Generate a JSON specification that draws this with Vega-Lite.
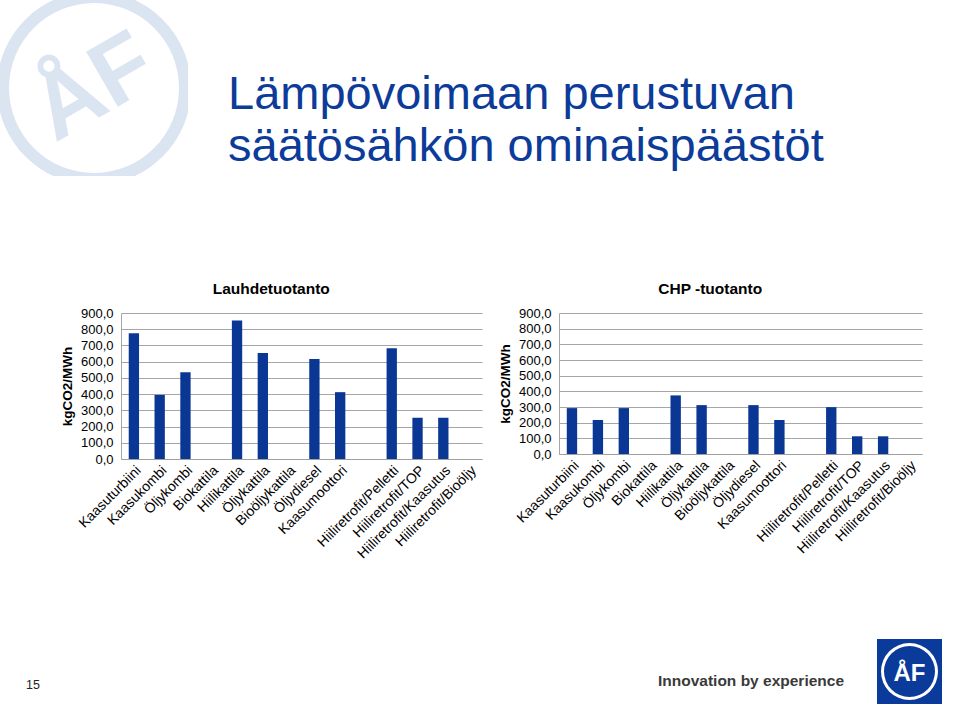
{
  "$schema": "https://vega.github.io/schema/vega-lite/v6.json",
  "padding": 0,
  "background": "white",
  "spacing": 78,
  "config": {
    "view": {"stroke": null},
    "font": "Liberation Sans",
    "axis": {"labelFont": "Liberation Sans", "titleFont": "Liberation Sans"},
    "title": {"font": "Liberation Sans"}
  },
  "datasets": {
    "paastot": [
      {"tuotanto": "Lauhdetuotanto", "tekniikka": "Kaasuturbiini", "kgCO2": 775},
      {"tuotanto": "Lauhdetuotanto", "tekniikka": "Kaasukombi", "kgCO2": 395},
      {"tuotanto": "Lauhdetuotanto", "tekniikka": "Öljykombi", "kgCO2": 534},
      {"tuotanto": "Lauhdetuotanto", "tekniikka": "Biokattila", "kgCO2": 0},
      {"tuotanto": "Lauhdetuotanto", "tekniikka": "Hiilikattila", "kgCO2": 853},
      {"tuotanto": "Lauhdetuotanto", "tekniikka": "Öljykattila", "kgCO2": 653},
      {"tuotanto": "Lauhdetuotanto", "tekniikka": "Bioöljykattila", "kgCO2": 0},
      {"tuotanto": "Lauhdetuotanto", "tekniikka": "Öljydiesel", "kgCO2": 616},
      {"tuotanto": "Lauhdetuotanto", "tekniikka": "Kaasumoottori", "kgCO2": 412},
      {"tuotanto": "Lauhdetuotanto", "tekniikka": "Hiiliretrofit/Pelletti", "kgCO2": 682},
      {"tuotanto": "Lauhdetuotanto", "tekniikka": "Hiiliretrofit/TOP", "kgCO2": 255},
      {"tuotanto": "Lauhdetuotanto", "tekniikka": "Hiiliretrofit/Kaasutus", "kgCO2": 255},
      {"tuotanto": "Lauhdetuotanto", "tekniikka": "Hiiliretrofit/Bioöljy", "kgCO2": 0},
      {"tuotanto": "CHP -tuotanto", "tekniikka": "Kaasuturbiini", "kgCO2": 293},
      {"tuotanto": "CHP -tuotanto", "tekniikka": "Kaasukombi", "kgCO2": 217},
      {"tuotanto": "CHP -tuotanto", "tekniikka": "Öljykombi", "kgCO2": 293},
      {"tuotanto": "CHP -tuotanto", "tekniikka": "Biokattila", "kgCO2": 0},
      {"tuotanto": "CHP -tuotanto", "tekniikka": "Hiilikattila", "kgCO2": 374},
      {"tuotanto": "CHP -tuotanto", "tekniikka": "Öljykattila", "kgCO2": 312},
      {"tuotanto": "CHP -tuotanto", "tekniikka": "Bioöljykattila", "kgCO2": 0},
      {"tuotanto": "CHP -tuotanto", "tekniikka": "Öljydiesel", "kgCO2": 312},
      {"tuotanto": "CHP -tuotanto", "tekniikka": "Kaasumoottori", "kgCO2": 217},
      {"tuotanto": "CHP -tuotanto", "tekniikka": "Hiiliretrofit/Pelletti", "kgCO2": 299},
      {"tuotanto": "CHP -tuotanto", "tekniikka": "Hiiliretrofit/TOP", "kgCO2": 113},
      {"tuotanto": "CHP -tuotanto", "tekniikka": "Hiiliretrofit/Kaasutus", "kgCO2": 113},
      {"tuotanto": "CHP -tuotanto", "tekniikka": "Hiiliretrofit/Bioöljy", "kgCO2": 0}
    ]
  },
  "vconcat": [
    {
      "spacing": 40,
      "hconcat": [
        {
          "width": 188,
          "height": 176,
          "data": {"values": [{"kuvio": "ÅF", "osuus": 1}]},
          "layer": [
            {
              "mark": {"type": "arc", "radius": 97, "radius2": 85, "color": "#dbe5f1", "clip": true},
              "encoding": {"theta": {"field": "osuus", "type": "quantitative"}}
            },
            {
              "mark": {"type": "text", "fontSize": 92, "fontWeight": "bold", "angle": 330, "color": "#dbe5f1"},
              "encoding": {"text": {"field": "kuvio", "type": "nominal"}}
            }
          ]
        },
        {
          "width": 1,
          "height": 60,
          "data": {"values": []},
          "mark": "point",
          "title": {
            "text": ["Lämpövoimaan perustuvan", "säätösähkön ominaispäästöt"],
            "orient": "bottom",
            "anchor": "start",
            "frame": "group",
            "offset": 12,
            "fontSize": 47,
            "fontWeight": "normal",
            "color": "#0d3b99",
            "lineHeight": 52,
            "baseline": "top"
          }
        },
        {
          "width": 1,
          "height": 203,
          "data": {"values": []},
          "mark": "point"
        }
      ]
    },
    {
      "spacing": 16,
      "hconcat": [
        {
          "width": 44,
          "height": 1,
          "data": {"values": []},
          "mark": "point"
        },
        {
          "width": 361,
          "height": 146,
          "title": {"text": "Lauhdetuotanto", "fontSize": 15.5, "fontWeight": "bold", "color": "#000000", "anchor": "middle", "frame": "bounds", "offset": 10},
          "data": {"name": "paastot"},
          "transform": [{"filter": "datum.tuotanto === 'Lauhdetuotanto'"}],
          "mark": {"type": "bar", "color": "#0a3794"},
          "encoding": {
            "x": {
              "field": "tekniikka", "type": "nominal",
              "scale": {"domain": ["Kaasuturbiini", "Kaasukombi", "Öljykombi", "Biokattila", "Hiilikattila", "Öljykattila", "Bioöljykattila", "Öljydiesel", "Kaasumoottori", " ", "Hiiliretrofit/Pelletti", "Hiiliretrofit/TOP", "Hiiliretrofit/Kaasutus", "Hiiliretrofit/Bioöljy"], "paddingInner": 0.6, "paddingOuter": 0.3},
              "axis": {"title": null, "labelAngle": -45, "labelFontSize": 14, "labelColor": "#000000", "ticks": false, "labelPadding": 4, "domainColor": "#a0a0a0", "labelOverlap": false, "labelLimit": 300, "grid": false}
            },
            "y": {
              "field": "kgCO2", "type": "quantitative",
              "scale": {"domain": [0, 900], "nice": false},
              "axis": {"title": "kgCO2/MWh", "titleFontSize": 13.5, "titleFontWeight": "bold", "titleColor": "#000000", "titlePadding": 6, "values": [0, 100, 200, 300, 400, 500, 600, 700, 800, 900], "labelExpr": "replace(format(datum.value, '.1f'), '.', ',')", "labelFontSize": 13, "labelColor": "#000000", "ticks": false, "labelPadding": 8, "gridColor": "#a6a6a6", "domainColor": "#a6a6a6"}
            }
          }
        },
        {
          "width": 363,
          "height": 141,
          "title": {"text": "CHP -tuotanto", "fontSize": 15.5, "fontWeight": "bold", "color": "#000000", "anchor": "middle", "frame": "bounds", "offset": 10},
          "data": {"name": "paastot"},
          "transform": [{"filter": "datum.tuotanto === 'CHP -tuotanto'"}],
          "mark": {"type": "bar", "color": "#0a3794"},
          "encoding": {
            "x": {
              "field": "tekniikka", "type": "nominal",
              "scale": {"domain": ["Kaasuturbiini", "Kaasukombi", "Öljykombi", "Biokattila", "Hiilikattila", "Öljykattila", "Bioöljykattila", "Öljydiesel", "Kaasumoottori", " ", "Hiiliretrofit/Pelletti", "Hiiliretrofit/TOP", "Hiiliretrofit/Kaasutus", "Hiiliretrofit/Bioöljy"], "paddingInner": 0.6, "paddingOuter": 0.3},
              "axis": {"title": null, "labelAngle": -45, "labelFontSize": 14, "labelColor": "#000000", "ticks": false, "labelPadding": 4, "domainColor": "#a0a0a0", "labelOverlap": false, "labelLimit": 300, "grid": false}
            },
            "y": {
              "field": "kgCO2", "type": "quantitative",
              "scale": {"domain": [0, 900], "nice": false},
              "axis": {"title": "kgCO2/MWh", "titleFontSize": 13.5, "titleFontWeight": "bold", "titleColor": "#000000", "titlePadding": 6, "values": [0, 100, 200, 300, 400, 500, 600, 700, 800, 900], "labelExpr": "replace(format(datum.value, '.1f'), '.', ',')", "labelFontSize": 13, "labelColor": "#000000", "ticks": false, "labelPadding": 8, "gridColor": "#a6a6a6", "domainColor": "#a6a6a6"}
            }
          }
        }
      ]
    },
    {
      "spacing": 13,
      "hconcat": [
        {
          "width": 66,
          "height": 91,
          "data": {"values": [{"sivu": "15"}]},
          "mark": {"type": "text", "fontSize": 12.5, "color": "#222222"},
          "encoding": {"text": {"field": "sivu", "type": "nominal"}}
        },
        {
          "width": 546,
          "height": 1,
          "data": {"values": []},
          "mark": "point"
        },
        {
          "width": 226,
          "height": 84,
          "data": {"values": [{"teksti": "Innovation by experience"}]},
          "mark": {"type": "text", "font": "Liberation Sans", "fontSize": 15.5, "fontWeight": "bold", "color": "#3a3a3a"},
          "encoding": {"text": {"field": "teksti", "type": "nominal"}}
        },
        {
          "width": 65,
          "height": 65,
          "view": {"fill": "#0a3a9a", "stroke": null},
          "data": {"values": [{"merkki": "ÅF", "osuus": 1}]},
          "layer": [
            {
              "mark": {"type": "arc", "radius": 28.5, "radius2": 25.5, "color": "#ffffff"},
              "encoding": {"theta": {"field": "osuus", "type": "quantitative"}}
            },
            {
              "mark": {"type": "text", "fontSize": 24, "fontWeight": "bold", "color": "#ffffff", "dy": 2},
              "encoding": {"text": {"field": "merkki", "type": "nominal"}}
            }
          ]
        }
      ]
    }
  ]
}
